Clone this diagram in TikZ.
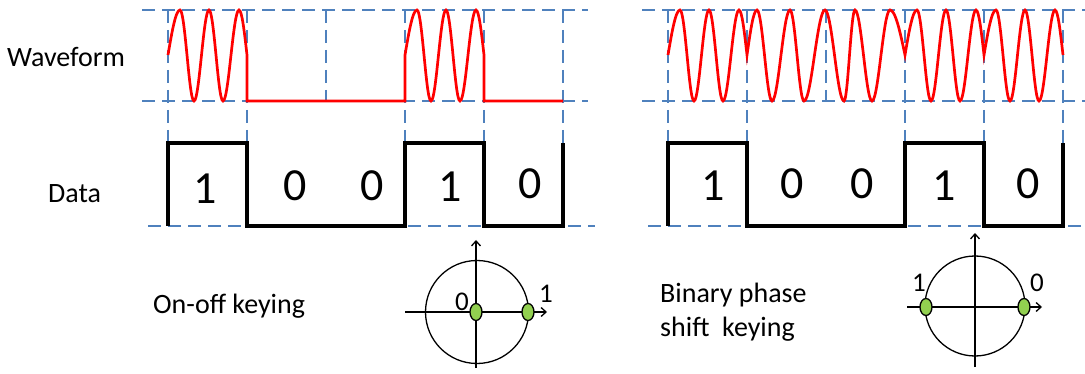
\documentclass[tikz,border=0pt]{standalone}
\usepackage{fontspec}
\setmainfont{Carlito}
\usetikzlibrary{arrows.meta,shapes.geometric}
\definecolor{raster}{HTML}{4F81BD}
\definecolor{traeger}{HTML}{FF0000}
\definecolor{gruen}{HTML}{92D050}
\tikzset{
  gitter/.style={raster,line width=1.6pt,dash pattern=on 13pt off 7pt},
  welle/.style={traeger,line width=2.7pt},
  daten/.style={black,line width=3.6pt},
  achse/.style={-{Straight Barb[length=5pt,width=9pt]},black,line width=1.3pt},
  kreis/.style={black,line width=1.3pt},
  punkt/.style={ellipse,draw=black,fill=gruen,line width=1.3pt,minimum width=12pt,minimum height=17pt,inner sep=0pt},
  titel/.style={font=\fontsize{28pt}{35pt}\selectfont,inner sep=0pt,anchor=base west},
  ziffer/.style={font=\fontsize{46pt}{50pt}\selectfont,inner sep=0pt,anchor=base},
  marke/.style={font=\fontsize{27pt}{30pt}\selectfont,inner sep=0pt,anchor=base},
  bitwelle/.style={insert path={sin ++(12,-45) cos ++(7,45) sin ++(7,46) cos ++(7.5,-46)
      sin ++(7.5,-45) cos ++(7,45) sin ++(7,46) cos ++(8,-46) sin ++(8,-45) cos ++(8,45)}},
}

\begin{document}
\begin{tikzpicture}[x=1pt,y=-1pt]
  \useasboundingbox (0,0) rectangle (1085,374);
  % ===== Raster und Datenfolge 1 0 0 1 0 (links und rechts gleich) =====
  \foreach \dx/\ende in {0/588, 500/585}{
    \begin{scope}[xshift=\dx]
      \draw[gitter] (142,10) -- (\ende,10);
      \draw[gitter] (142,101) -- (\ende,101);
      \draw[gitter] (148,226) -- (\ende+7,226);
      \foreach \x in {168,247,405,484,563}
        \draw[gitter] (\x,10) -- (\x,226);
      \draw[gitter] (326,10) -- (326,101);
      \draw[daten] (168,226) -- (168,143) -- (247,143) -- (247,226) -- (405,226)
        -- (405,143) -- (484,143) -- (484,226) -- (563,226) -- (563,143);
    \end{scope}}
  \foreach \x/\y/\b in {205/204/1, 295/201/0, 372/201/0, 450/202/1, 530/199/0,
                        713/201/1, 792/199/0, 862/199/0, 944/201/1, 1028/199/0}
    \node[ziffer] (bit\x) at (\x,\y) {\b};
  % ===== On-off keying: Träger an / aus =====
  \draw[welle] (168,55) [bitwelle] -- ++(0,46) -- (405,101) -- ++(0,-46) [bitwelle] -- ++(0,46) -- (563,101);
  % ===== BPSK: Phasensprung an jeder Bitgrenze, 0 0 ohne Sprung =====
  \draw[welle] (668,55) [bitwelle]
    sin ++(10,-45) cos ++(7.5,45) sin ++(7.5,46) cos ++(9,-46) sin ++(9,-45) cos ++(7,45)
    sin ++(7,46) cos ++(10.5,-46) sin ++(10.5,-45) cos ++(9.5,45) sin ++(9.5,46) cos ++(5.5,-46)
    sin ++(5.5,-45) cos ++(8.5,45) sin ++(8.5,46) cos ++(9,-46) sin ++(9,-45) cos ++(15,45)
    [bitwelle] [bitwelle];
  % ===== Beschriftung =====
  \node[titel] (wellentext) at (7,67) {Waveform};
  \node[titel] (datentext) at (48,203) {Data};
  \node[titel] (ooktext) at (153,313) {On-off keying};
  \node[titel,align=left] (bpsktext) at (660,337) {Binary phase\\shift\ \ keying};
  % ===== Konstellation OOK =====
  \coordinate (ookmitte) at (477,312);
  \draw[kreis] (ookmitte) circle [radius=51.5pt];
  \draw[achse] (405,312) -- (547,312);
  \draw[achse] (476,368) -- (476,240);
  \node[punkt] (ooknull) at (476,312) {};
  \node[punkt] (ookeins) at (528,312) {};
  \node[marke] (ookmarke0) at (462,310) {0};
  \node[marke] (ookmarke1) at (546,302) {1};
  % ===== Konstellation BPSK =====
  \coordinate (bpskmitte) at (975,306);
  \draw[kreis] (bpskmitte) circle [radius=50pt];
  \draw[achse] (907,307) -- (1042,307);
  \draw[achse] (975,367) -- (975,233);
  \node[punkt] (bpskeins) at (926,307) {};
  \node[punkt] (bpsknull) at (1024,307) {};
  \node[marke] (bpskmarke1) at (919,292) {1};
  \node[marke] (bpskmarke0) at (1037,292) {0};
\end{tikzpicture}
\end{document}
